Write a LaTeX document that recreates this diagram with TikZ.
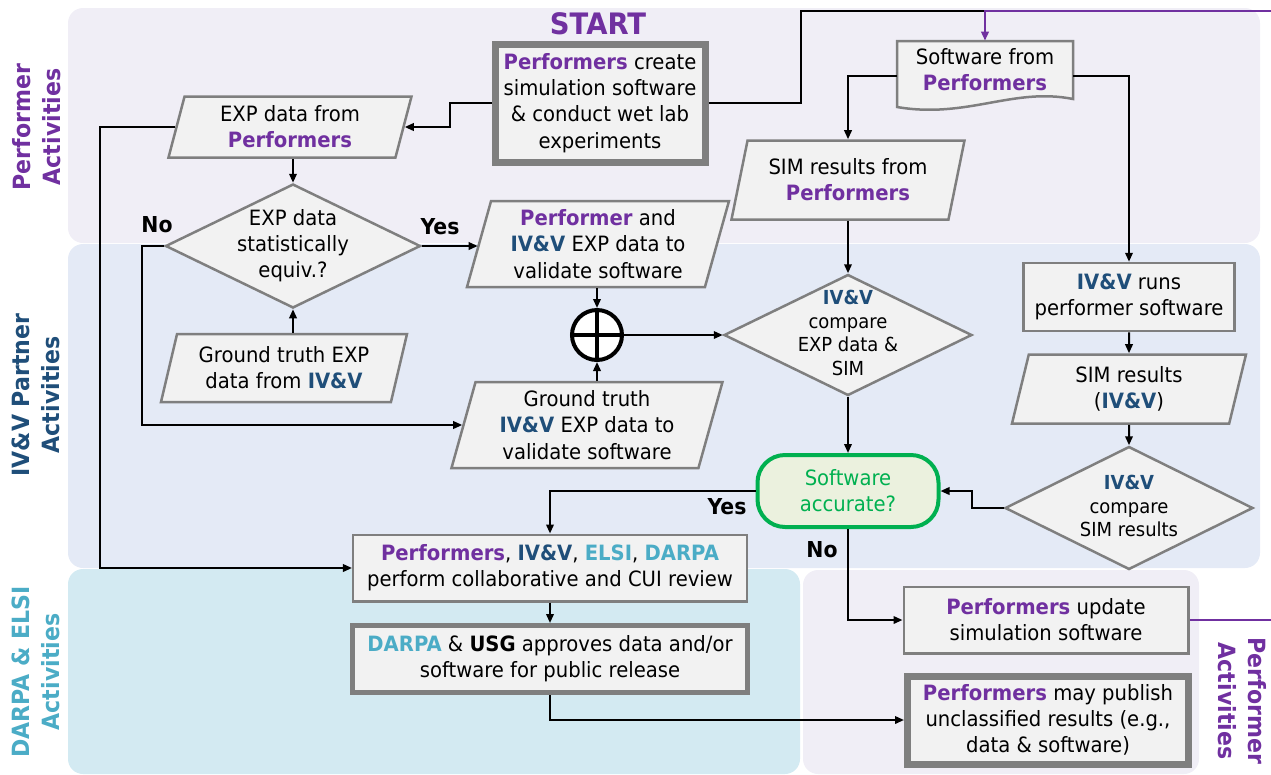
\documentclass[tikz,border=0pt]{standalone}
\usepackage{fontspec}
\setmainfont{DejaVu Sans}[FakeStretch=0.93]
\usetikzlibrary{shapes.geometric,arrows.meta,backgrounds}

\definecolor{pfpurple}{HTML}{7030A0}
\definecolor{ivblue}{HTML}{1F4E79}
\definecolor{dacyan}{HTML}{4BACC6}
\definecolor{boxfill}{HTML}{F2F2F2}
\definecolor{boxline}{HTML}{7F7F7F}
\definecolor{okgreen}{HTML}{00B050}
\definecolor{okfill}{HTML}{EBF1DE}
\definecolor{lanepf}{HTML}{F0EEF6}
\definecolor{laneiv}{HTML}{E4EAF6}
\definecolor{laneda}{HTML}{D3EAF2}

\newcommand{\perfs}{\textbf{\textcolor{pfpurple}{Performers}}}
\newcommand{\perf}{\textbf{\textcolor{pfpurple}{Performer}}}
\newcommand{\ivv}{\textbf{\textcolor{ivblue}{IV\&V}}}
\newcommand{\elsi}{\textbf{\textcolor{dacyan}{ELSI}}}
\newcommand{\darpa}{\textbf{\textcolor{dacyan}{DARPA}}}
\newcommand{\dlbl}[1]{\raisebox{-0.55em}{\smash{\makebox[0pt]{\begin{tabular}{@{}c@{}}#1\end{tabular}}}}}

\tikzset{
  every node/.style={font=\fontsize{12}{14.9}\selectfont},
  box/.style={draw=boxline, fill=boxfill, line width=0.5mm, align=center, inner sep=1mm},
  thickbox/.style={box, line width=1.4mm},
  para/.style={box, trapezium, trapezium left angle=73, trapezium right angle=107, trapezium stretches body},
  decide/.style={box, diamond, inner sep=0pt},
  wire/.style={line width=0.4mm},
  conn/.style={wire, -{Triangle[length=1.8mm,width=1.5mm]}},
  lbl/.style={font=\fontsize{12.5}{15}\selectfont\bfseries},
  lane/.style={rounded corners=3mm},
  lanelbl/.style={font=\fontsize{13.5}{17}\selectfont\bfseries, align=center},
}

\begin{document}
\begin{tikzpicture}[x=0.2mm,y=-0.2mm]
\useasboundingbox (0,0) rectangle (1271,774);

\begin{scope}[on background layer]
\fill[lanepf, lane] (68,8) rectangle (1260,243);
\fill[laneiv, lane] (68,244) rectangle (1260,568);
\fill[laneda, lane] (68,569) rectangle (800,774);
\fill[lanepf, lane] (803,570) rectangle (1199,774);
\filldraw[draw=boxline, fill=boxfill, line width=0.5mm] (897,41) -- (1073,41) -- (1073,99) .. controls (1013,87) and (967,119) .. (897,107) -- cycle;
\end{scope}

\node[lanelbl, text=pfpurple, rotate=90] (pfL) at (37,127) {Performer\\Activities};
\node[lanelbl, text=ivblue, rotate=90] (ivL) at (36,395) {IV\&V Partner\\Activities};
\node[lanelbl, text=dacyan, rotate=90] (daL) at (36,672) {DARPA \& ELSI\\Activities};
\node[lanelbl, text=pfpurple, rotate=-90] (pfR) at (1242,701) {Performer\\Activities};

\node[lbl, text=pfpurple, font=\fontsize{16.8}{20}\selectfont\bfseries] (startT) at (598,24) {START};
\node[thickbox, minimum width=42mm, minimum height=23.6mm] (start) at (600,103) {\perfs{} create\\simulation software\\\& conduct wet lab\\experiments};
\node[para, minimum width=48.6mm, minimum height=12.2mm] (expP) at (290,127) {EXP data from\\\perfs};
\node[decide, minimum width=51mm, minimum height=24.8mm] (eqD) at (293,246) {\dlbl{EXP data\\statistically\\equiv.?}};
\node[para, minimum width=49.2mm, minimum height=13.6mm] (gtP) at (284,368) {Ground truth EXP\\data from \ivv};
\node[para, minimum width=52.4mm, minimum height=17.2mm] (valP) at (598,244) {\perf{} and\\\ivv{} EXP data to\\validate software};
\node[circle, draw=black, fill=white, line width=0.8mm, minimum size=10mm, inner sep=0pt] (plus) at (597,335) {};
\node[para, minimum width=54.2mm, minimum height=17.2mm] (gtvP) at (587,425) {Ground truth\\\ivv{} EXP data to\\validate software};
\node[align=center, minimum width=35.2mm, minimum height=11.6mm, inner sep=0pt] (swD) at (985,70) {Software from\\\perfs};
\node[para, minimum width=46.6mm, minimum height=15.8mm] (simP) at (848,180) {SIM results from\\\perfs};
\node[decide, minimum width=49.6mm, minimum height=24.2mm, font=\fontsize{11}{13.4}\selectfont] (cmpD) at (848,335) {\dlbl{\ivv\\compare\\EXP data \&\\SIM}};
\node[box, minimum width=42.2mm, minimum height=13.6mm] (runB) at (1129,297) {\ivv{} runs\\performer software};
\node[para, minimum width=46.8mm, minimum height=13.8mm] (simvP) at (1129,389) {SIM results\\(\ivv)};
\node[decide, minimum width=49.6mm, minimum height=24.6mm, font=\fontsize{11}{13.4}\selectfont] (simD) at (1129,508) {\dlbl{\ivv\\compare\\SIM results}};
\node[box, draw=okgreen, fill=okfill, text=okgreen, line width=0.8mm, rounded corners=5.5mm, minimum width=36.2mm, minimum height=14.4mm] (accT) at (848,491) {Software\\accurate?};
\node[box, minimum width=78.7mm, minimum height=13.3mm] (revB) at (550,568) {\perfs, \ivv, \elsi, \darpa\\perform collaborative and CUI review};
\node[thickbox, line width=1mm, minimum width=78.8mm, minimum height=13.4mm] (appB) at (550,659) {\darpa{} \& \textbf{USG} approves data and/or\\software for public release};
\node[box, minimum width=56.9mm, minimum height=13.3mm] (updB) at (1046,620) {\perfs{} update\\simulation software};
\node[thickbox, minimum width=56.2mm, minimum height=17.6mm] (pubB) at (1048,720) {\perfs{} may publish\\unclassified results (e.g.,\\data \& software)};

\node[lbl] (yesE) at (440,227) {Yes};
\node[lbl] (noE) at (157,225) {No};
\node[lbl] (yesA) at (727,507) {Yes};
\node[lbl] (noA) at (822,550) {No};

\coordinate (bendS) at (801,11);
\coordinate (topJ) at (985,11);

\draw[line width=0.8mm] (plus.north) -- (plus.south) (plus.west) -- (plus.east);

\draw[conn] (start.west) -- ++(-42,0) |- (expP.east);
\draw[wire] (start.east) -| (bendS) -- (topJ);
\begin{scope}
\clip (0,0) rectangle (1271,774);
\draw[conn, draw=pfpurple, line width=0.55mm] (updB.east) -- (1290,620) |- (topJ) -- (swD.north);
\end{scope}
\draw[conn] ([yshift=-1.2mm]swD.west) -| (simP.north);
\draw[conn] ([yshift=-1.2mm]swD.east) -| (runB.north);
\draw[conn] (eqD.north |- expP.south) -- (eqD.north);
\draw[conn] (eqD.east) -- (eqD.east -| valP.west);
\draw[conn] (eqD.west) -- ++(-22,0) |- (gtvP.west);
\draw[conn] (eqD.south |- gtP.north) -- (eqD.south);
\draw[conn] (expP.west) -- ++(-75,0) |- (revB.west);
\draw[conn] (plus.north |- valP.south) -- (plus.north);
\draw[conn] (plus.south |- gtvP.north) -- (plus.south);
\draw[conn] (plus.east) -- (cmpD.west);
\draw[conn] (cmpD.north |- simP.south) -- (cmpD.north);
\draw[conn] (cmpD.south) -- (accT.north);
\draw[conn] (runB.south) -- (simvP.north);
\draw[conn] (simvP.south) -- (simD.north);
\draw[conn] (simD.west) -- ++(-32,0) |- (accT.east);
\draw[conn] (accT.west) -| (revB.north);
\draw[conn] (accT.south) |- (updB.west);
\draw[conn] (revB.south) -- (appB.north);
\draw[conn] (appB.south) |- (pubB.west);
\end{tikzpicture}
\end{document}
